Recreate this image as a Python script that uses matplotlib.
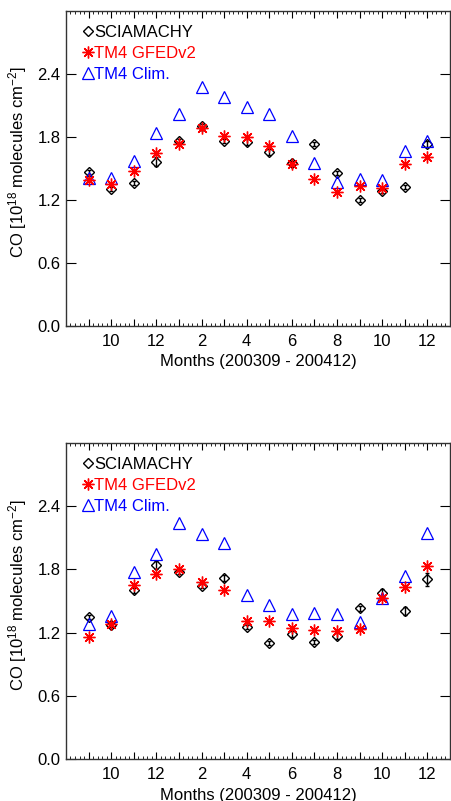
import matplotlib
matplotlib.use("Agg")
import matplotlib.pyplot as plt
import numpy as np

plt.rcParams['font.family'] = ['Liberation Sans', 'DejaVu Sans']
plt.rcParams['mathtext.default'] = 'regular'

# months Sep 2003 .. Dec 2004
months = np.arange(1, 17)
month_lab = ['', '10', '', '12', '', '2', '', '4', '', '6', '', '8', '', '10', '', '12']
ytick_pos = [0.0, 0.6, 1.2, 1.8, 2.4]

# top panel
scia_top = [1.47, 1.305, 1.36, 1.565, 1.76, 1.90, 1.765, 1.755, 1.655, 1.55, 1.735, 1.455,
            1.20, 1.29, 1.32, 1.73]
scia_top_err = [0.02, 0.02, 0.02, 0.04, 0.02, 0.02, 0.02, 0.03, 0.03, 0.02, 0.02, 0.02,
                0.02, 0.02, 0.02, 0.03]
gfed_top = [1.39, 1.35, 1.48, 1.65, 1.735, 1.89, 1.81, 1.80, 1.71, 1.545, 1.40, 1.28,
            1.33, 1.31, 1.545, 1.605]
clim_top = [1.41, 1.405, 1.575, 1.84, 2.02, 2.275, 2.18, 2.09, 2.02, 1.81, 1.55, 1.375,
            1.40, 1.39, 1.665, 1.765]

# bottom panel
scia_bot = [1.345, 1.27, 1.60, 1.84, 1.775, 1.645, 1.72, 1.255, 1.10, 1.19, 1.11, 1.17,
            1.43, 1.58, 1.405, 1.705]
scia_bot_err = [0.02, 0.02, 0.02, 0.04, 0.02, 0.02, 0.03, 0.02, 0.02, 0.03, 0.02, 0.03,
                0.02, 0.03, 0.04, 0.06]
gfed_bot = [1.16, 1.28, 1.65, 1.755, 1.80, 1.68, 1.60, 1.31, 1.31, 1.24, 1.225, 1.215,
            1.235, 1.525, 1.635, 1.835]
clim_bot = [1.28, 1.36, 1.78, 1.945, 2.245, 2.14, 2.05, 1.555, 1.465, 1.38, 1.39, 1.375,
            1.30, 1.525, 1.74, 2.145]

fig = plt.figure(figsize=(4.51, 8.01), dpi=100)
ax1 = fig.add_axes([0.1463, 0.593, 0.8514, 0.3933])
ax2 = fig.add_axes([0.1463, 0.0524, 0.8514, 0.3945])

for ax, scia, err, gfed, clim in [(ax1, scia_top, scia_top_err, gfed_top, clim_top),
                                  (ax2, scia_bot, scia_bot_err, gfed_bot, clim_bot)]:
    ax.errorbar(months, scia, yerr=err, fmt='none', ecolor='black', elinewidth=1.0,
                capsize=1.5, zorder=2)
    ax.plot(months, scia, linestyle='none', marker='D', markersize=5, mfc='none',
            mec='black', mew=1.0, label='SCIAMACHY', zorder=3)
    ax.plot(months, gfed, linestyle='none', marker=(8, 2, 0), markersize=8.5,
            mec='red', mew=1.0, color='red', label='TM4 GFEDv2', zorder=4)
    ax.plot(months, clim, linestyle='none', marker='^', markersize=8, mfc='none',
            mec='blue', mew=0.9, label='TM4 Clim.', zorder=3)

    ax.set_xlim(0, 17)
    ax.set_ylim(0, 3.0)
    ax.set_xticks(months, labels=month_lab, fontsize=12)
    ax.set_xticks(np.arange(0, 17.01, 0.2), minor=True)
    ax.set_yticks(ytick_pos)
    ax.set_yticklabels(['%.1f' % v for v in ytick_pos], fontsize=12)
    ax.tick_params(axis='x', which='major', direction='in', length=5, top=True, width=0.8,
                   pad=6)
    ax.tick_params(axis='x', which='minor', direction='in', length=2.5, top=True, width=0.6)
    ax.tick_params(axis='y', which='major', direction='in', length=7, right=True, width=0.8,
                   pad=4)
    for s in ax.spines.values():
        s.set_linewidth(1.0)
        s.set_color('#333333')
    ax.set_xlabel('Months (200309 - 200412)', fontsize=12, va='center')
    ax.xaxis.set_label_coords(0.5, -36 / 316)
    ax.set_ylabel('CO [10$^{18}$ molecules cm$^{-2}$]', fontsize=12, va='center')
    ax.yaxis.set_label_coords(-48 / 384, 0.52)
    ax.legend(loc='upper left', bbox_to_anchor=(0.029, 0.978), borderaxespad=0,
              frameon=False, fontsize=12, handlelength=0.5, handletextpad=0.11,
              labelspacing=0.36, labelcolor=['black', 'red', 'blue'], markerscale=1.0)

fig.savefig('out.png', dpi=100)
